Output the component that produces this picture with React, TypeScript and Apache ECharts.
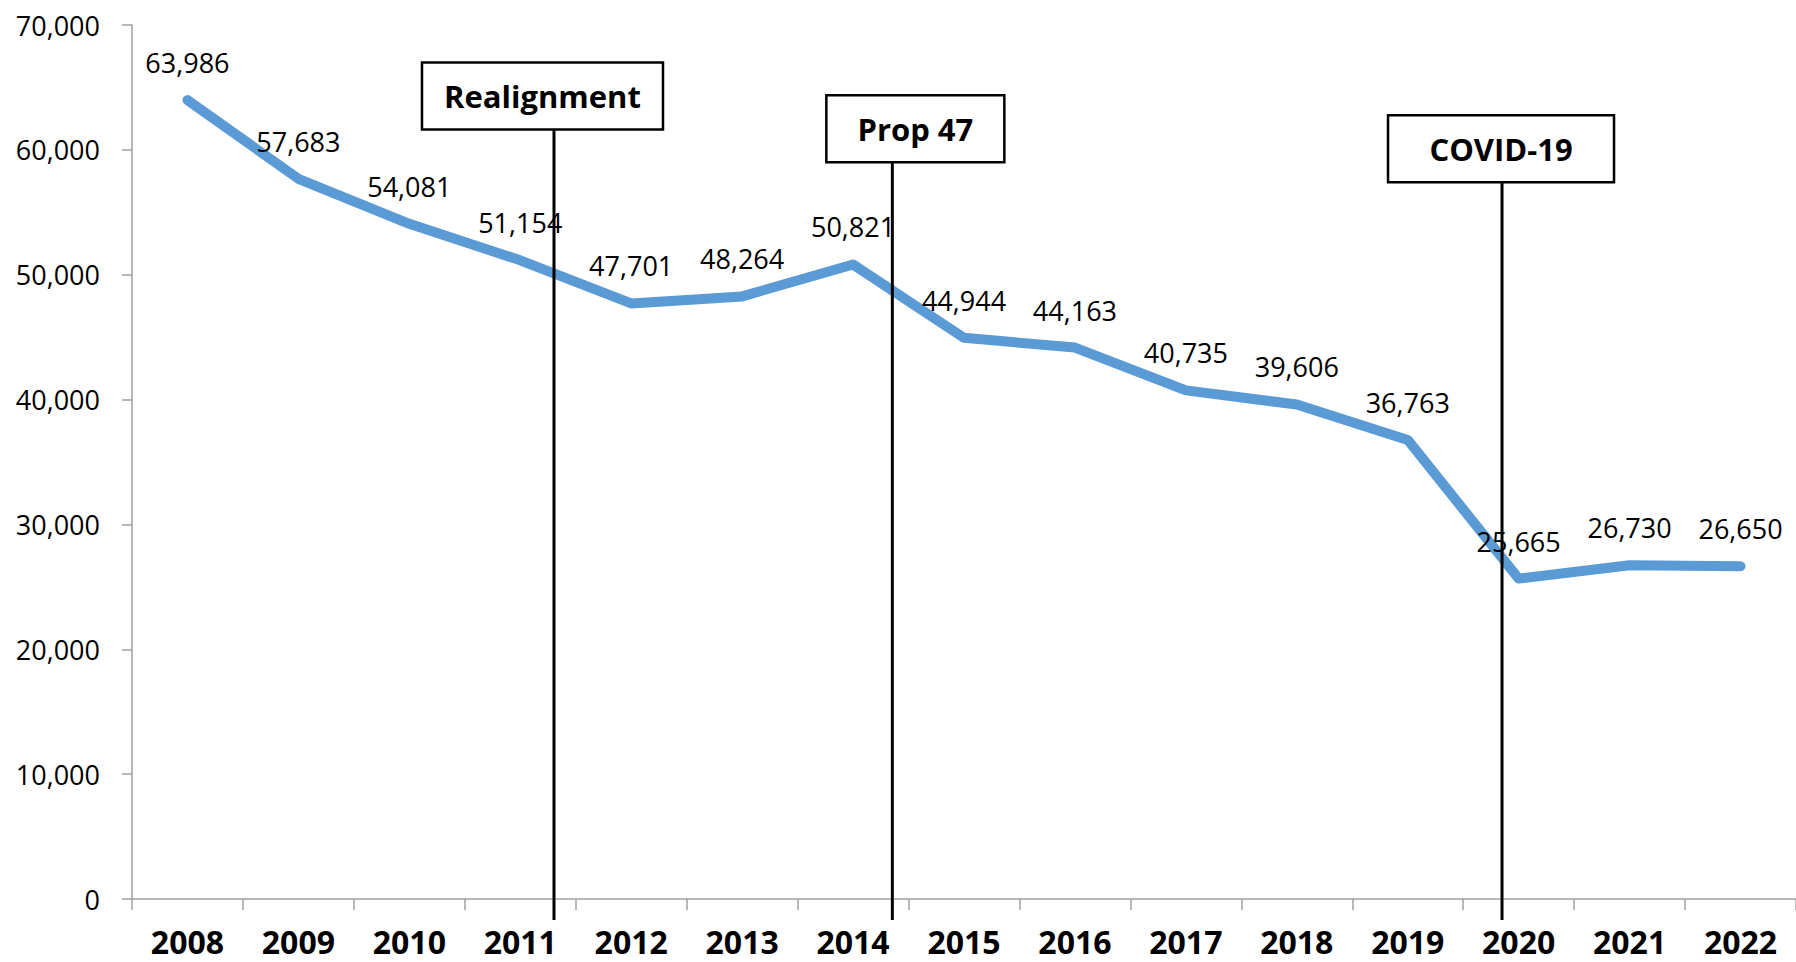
import React, { useEffect, useRef } from "react";
import * as echarts from "echarts";

const years = ["2008", "2009", "2010", "2011", "2012", "2013", "2014", "2015", "2016", "2017", "2018", "2019", "2020", "2021", "2022"];
const values = [63986, 57683, 54081, 51154, 47701, 48264, 50821, 44944, 44163, 40735, 39606, 36763, 25665, 26730, 26650];
const yMin = 0;
const yMax = 70000;
const yInterval = 10000;

const eventNames = ["Realignment", "Prop 47", "COVID-19"];
// position along the category axis, in category-index units
const eventPositions = [3.304, 6.354, 11.85];
// value at the top edge of each annotation box
const eventBoxTops = [67000, 64370, 62770];

// annotation box styling (pixels)
const BOX_H = 67;
const boxWidths = [241, 178, 226];
const boxLeftOffsets = [132, 66, 114];
const FONT = '"Open Sans", "Noto Sans", sans-serif';

export default function App() {
  const ref = useRef<HTMLDivElement>(null);

  useEffect(() => {
    document.body.style.margin = "0";
    if (!ref.current) return;
    const chart = echarts.init(ref.current, undefined, { renderer: "svg" });
    const fmt = (v: number) => Number(v).toLocaleString("en-US");

    chart.setOption({
      animation: false,
      backgroundColor: "#ffffff",
      grid: { left: 132, right: 0, top: 25, bottom: 63, containLabel: false },
      xAxis: [
        {
          type: "category",
          data: years,
          boundaryGap: true,
          axisLine: { show: true, onZero: false, lineStyle: { color: "#a0a0a0", width: 1.5 } },
          axisTick: { show: true, length: 11, inside: false, lineStyle: { color: "#a0a0a0", width: 1.5 } },
          axisLabel: {
            interval: 0,
            margin: 26,
            color: "#000",
            fontSize: 32,
            fontWeight: "bold",
            fontFamily: FONT,
          },
          splitLine: { show: false },
        },
        {
          type: "value",
          min: -0.5,
          max: years.length - 0.5,
          show: false,
        },
      ],
      yAxis: {
        type: "value",
        min: yMin,
        max: yMax,
        interval: yInterval,
        axisLine: { show: true, onZero: false, lineStyle: { color: "#a0a0a0", width: 1.5 } },
        axisTick: { show: true, length: 10, inside: false, lineStyle: { color: "#a0a0a0", width: 1.5 } },
        axisLabel: {
          margin: 32,
          color: "#000",
          fontSize: 27,
          fontFamily: FONT,
          formatter: (v: number) => fmt(v),
        },
        splitLine: { show: false },
      },
      series: [
        {
          type: "line",
          data: values,
          xAxisIndex: 0,
          yAxisIndex: 0,
          z: 2,
          symbol: "circle",
          symbolSize: 2,
          showSymbol: true,
          showAllSymbol: true,
          itemStyle: { color: "#5B9BD5" },
          lineStyle: { color: "#5B9BD5", width: 10, cap: "round", join: "round" },
          label: {
            show: true,
            position: "top",
            distance: 23,
            color: "#000",
            fontSize: 27,
            fontFamily: FONT,
            formatter: (p: any) => fmt(p.value),
          },
          emphasis: { disabled: true },
          silent: true,
        },
        {
          type: "custom",
          coordinateSystem: "cartesian2d",
          xAxisIndex: 1,
          yAxisIndex: 0,
          z: 10,
          clip: false,
          silent: true,
          data: eventPositions.map((p, i) => [p, eventBoxTops[i]]),
          renderItem: (params: any, api: any) => {
            const i = params.dataIndex;
            const xv = api.value(0);
            const x = api.coord([xv, 0])[0];
            const base = api.coord([xv, 0])[1];
            const top = api.coord([xv, api.value(1)])[1];
            const w = boxWidths[i];
            const left = x - boxLeftOffsets[i];
            return {
              type: "group",
              children: [
                {
                  type: "line",
                  shape: { x1: x, y1: top + BOX_H, x2: x, y2: base + 21 },
                  style: { stroke: "#000", lineWidth: 3 },
                },
                {
                  type: "rect",
                  shape: { x: left, y: top, width: w, height: BOX_H },
                  style: { fill: "#fff", stroke: "#000", lineWidth: 2.5 },
                },
                {
                  type: "text",
                  x: left + w / 2,
                  y: top + BOX_H / 2,
                  style: {
                    text: eventNames[i],
                    fill: "#000",
                    fontSize: 31,
                    fontWeight: "bold",
                    fontFamily: FONT,
                    align: "center",
                    verticalAlign: "middle",
                  },
                },
              ],
            };
          },
        },
      ],
    });

    return () => {
      chart.dispose();
    };
  }, []);

  return <div ref={ref} style={{ width: 1796, height: 962 }} />;
}
